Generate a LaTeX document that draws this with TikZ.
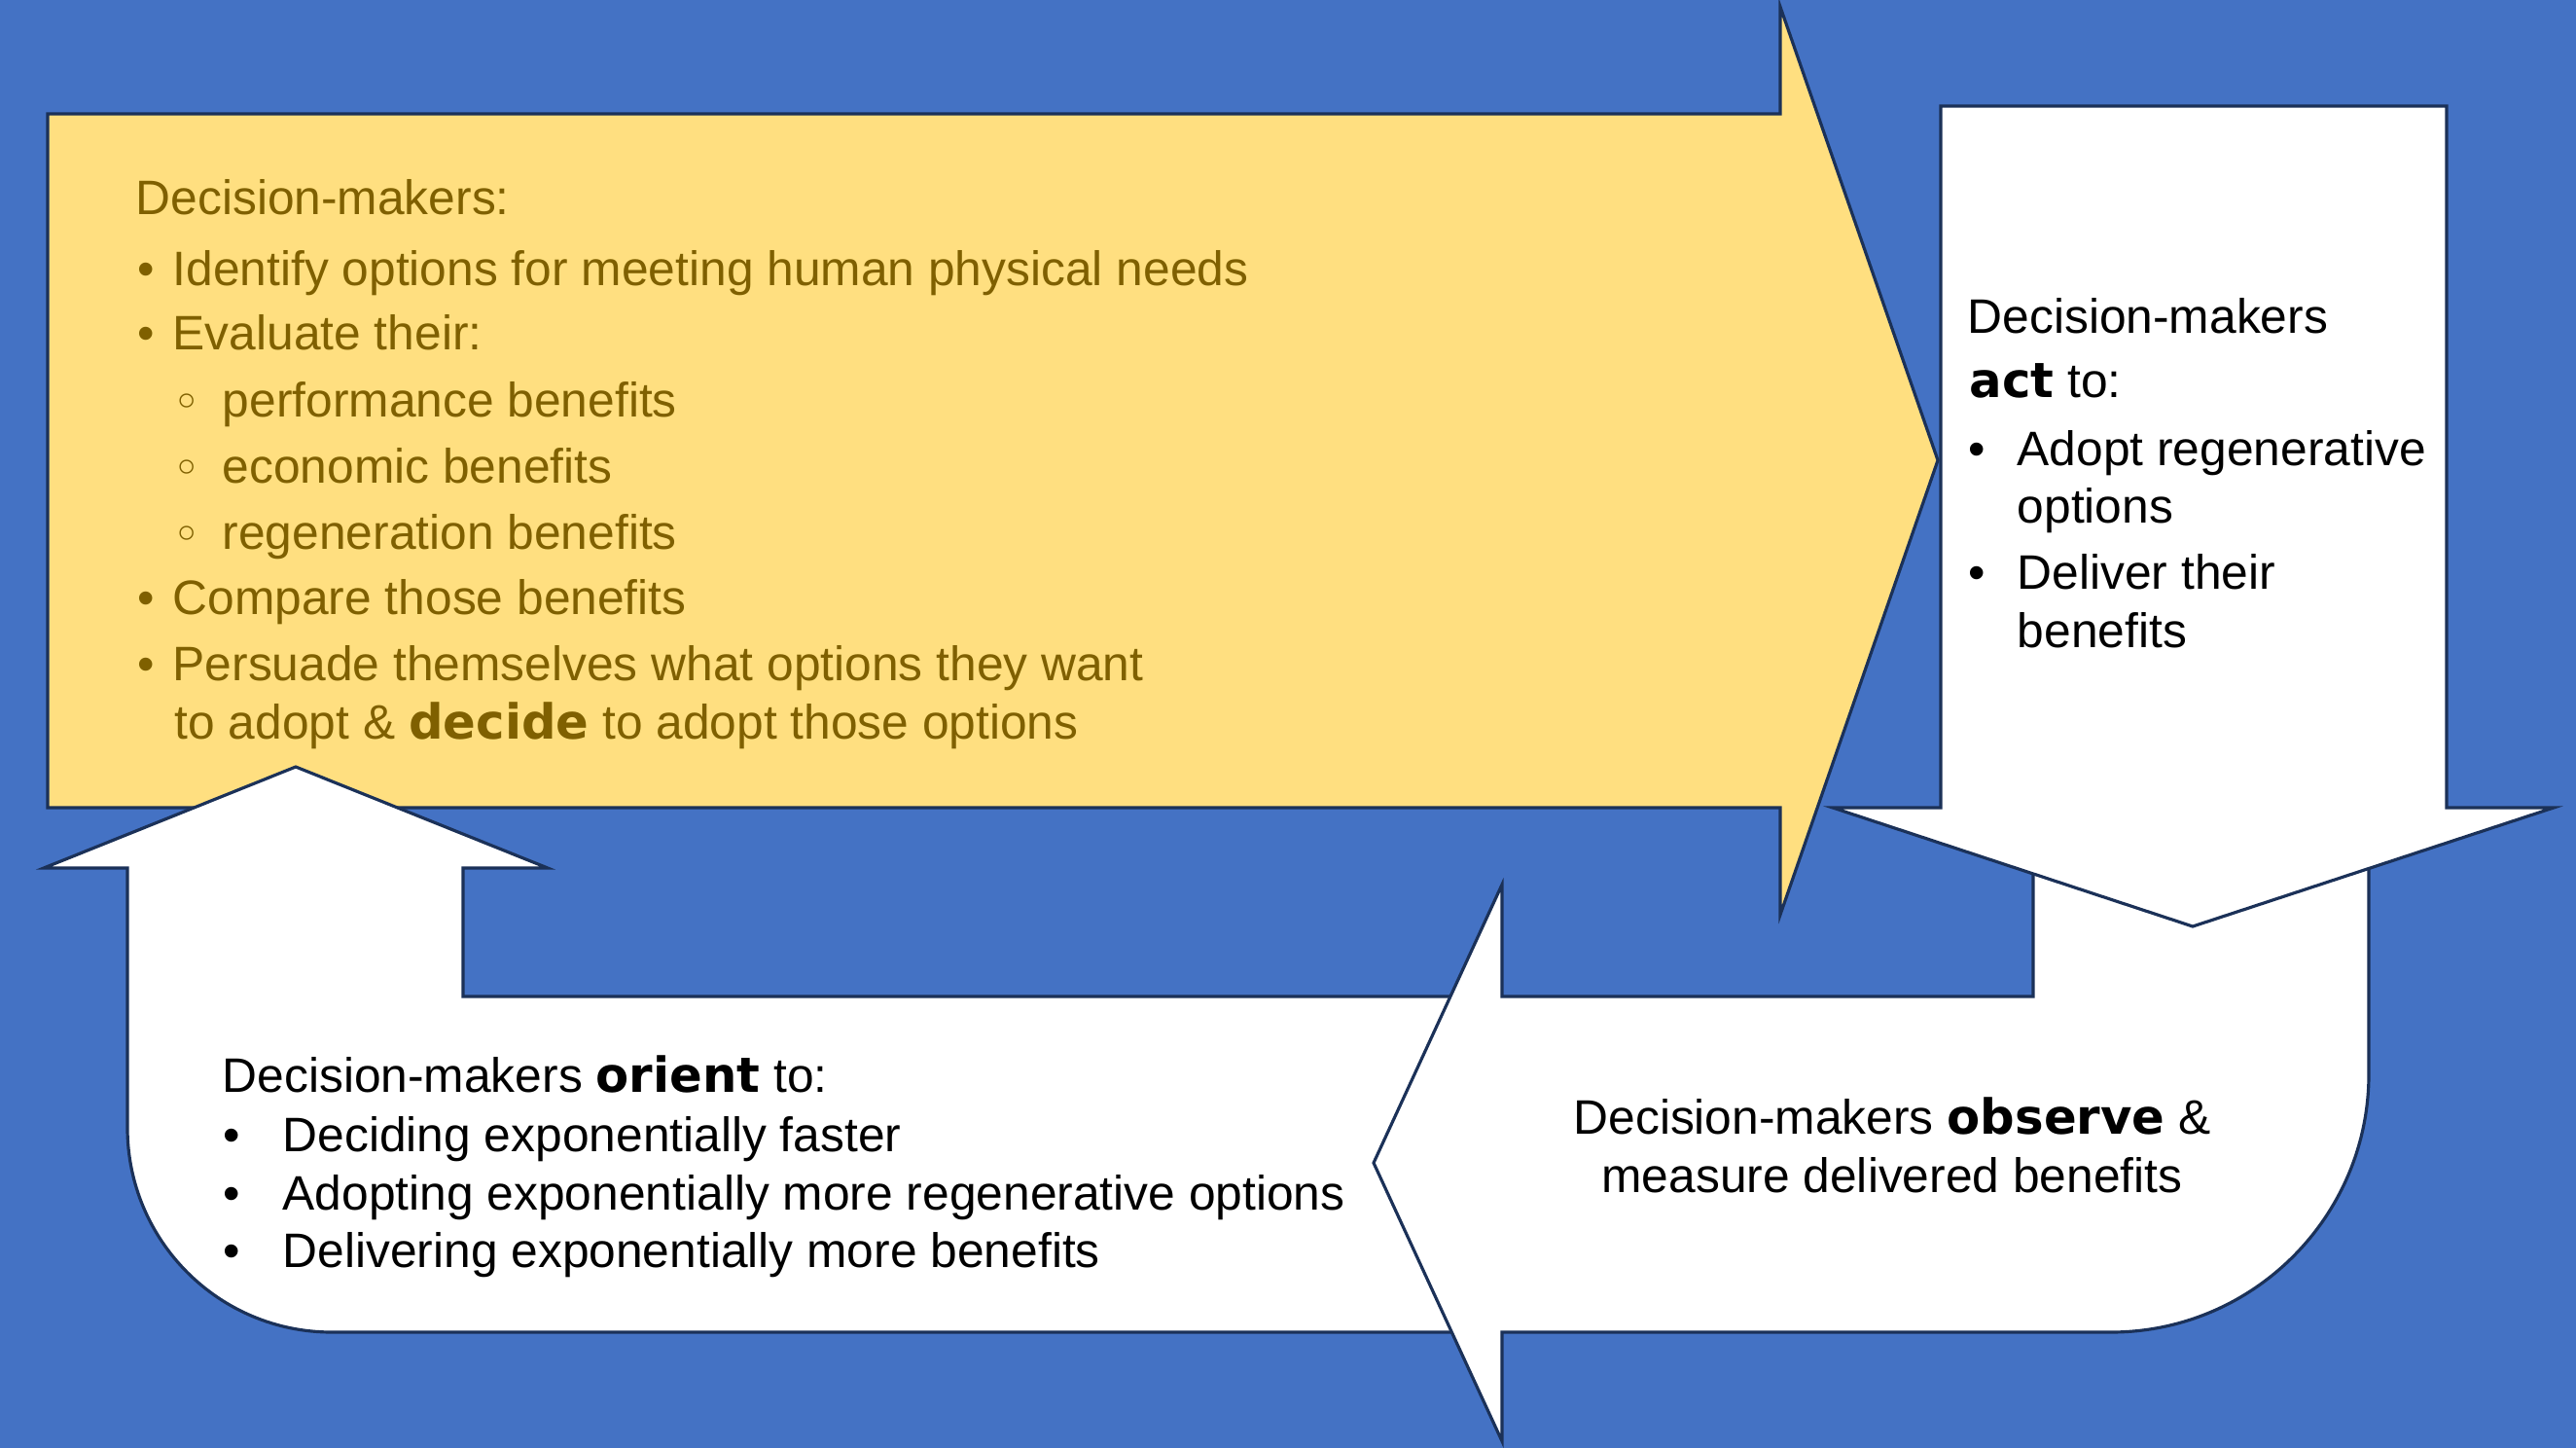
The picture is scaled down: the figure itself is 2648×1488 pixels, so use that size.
\documentclass[tikz,border=0pt]{standalone}
\usepackage{fontspec}
\setmainfont{Liberation Sans}
\newfontface\heavyface{DejaVu Sans Bold}
\newfontface\symface{DejaVu Sans}
\definecolor{slideblue}{HTML}{4472C4}
\definecolor{goldfill}{HTML}{FFDF80}
\definecolor{goldtext}{HTML}{7F6000}
\definecolor{edgeblue}{HTML}{1B3158}
\newcommand{\txtsize}{\fontsize{14.14}{17}\selectfont}
\newcommand{\hv}[1]{{\heavyface #1}}
\newcommand{\subdot}{{\symface ◦}}
\tikzset{
    shapeline/.style={draw=edgeblue, line width=0.9pt, line join=miter},
    goldline/.style={anchor=base west, inner sep=0pt, text=goldtext, font=\txtsize},
    blackline/.style={anchor=base west, inner sep=0pt, text=black, font=\txtsize},
    centreline/.style={anchor=base, inner sep=0pt, text=black, font=\txtsize}
}

\begin{document}
\begin{tikzpicture}[x=0.01cm, y=-0.01cm]
    \fill[slideblue] (0,0) rectangle (2648,1488);
    \useasboundingbox (0,0) rectangle (2648,1488);

    \draw[shapeline, fill=goldfill]
    (49,117) -- (1830,117) -- (1830,7) -- (1992,473) -- (1830,940) -- (1830,830) -- (49,830) -- cycle;

    \draw[shapeline, fill=white]
    (1530,1024) -- (476,1024) -- (476,892) -- (563,892) -- (304,788) -- (45,892) -- (131,892)
    -- (131,1159) .. controls (131,1275) and (225,1369) .. (341,1369) -- (1530,1369) -- cycle;

    \draw[shapeline, fill=white]
    (2090,860) -- (2090,1024) -- (1544,1024) -- (1544,909) -- (1412,1195) -- (1544,1481) -- (1544,1369)
    -- (2170,1369) .. controls (2316,1369) and (2435,1250) .. (2435,1104) -- (2435,860) -- cycle;

    \draw[shapeline, fill=white]
    (1995,109) -- (2515,109) -- (2515,830) -- (2625,830) -- (2254,952) -- (1884,830) -- (1995,830) -- cycle;

    \begin{scope}[every node/.style={goldline}]
        \node (decide-head) at (139,221) {Decision-makers:};
        \node (decide-dot1) at (141,294) {•};
        \node (decide-line1) at (177,294) {Identify options for meeting human physical needs};
        \node (decide-dot2) at (141,360) {•};
        \node (decide-line2) at (177,360) {Evaluate their:};
        \node (decide-sub1) at (177,430) {\subdot};
        \node (decide-perf) at (228,428) {performance benefits};
        \node (decide-sub2) at (177,498) {\subdot};
        \node (decide-econ) at (228,496) {economic benefits};
        \node (decide-sub3) at (177,566) {\subdot};
        \node (decide-regen) at (228,564) {regeneration benefits};
        \node (decide-dot3) at (141,631) {•};
        \node (decide-line3) at (177,631) {Compare those benefits};
        \node (decide-dot4) at (141,699) {•};
        \node (decide-line4) at (177,699) {Persuade themselves what options they want};
        \node (decide-line5) at (179,759) {to adopt \& \hv{decide} to adopt those options};
    \end{scope}

    \begin{scope}[every node/.style={blackline}]
        \node (act-head) at (2022,342) {Decision-makers};
        \node (act-verb) at (2024,408) {\hv{act} to:};
        \node (act-dot1) at (2023,478) {•};
        \node (act-line1) at (2073,478) {Adopt regenerative};
        \node (act-line1b) at (2073,537) {options};
        \node (act-dot2) at (2023,605) {•};
        \node (act-line2) at (2073,605) {Deliver their};
        \node (act-line2b) at (2073,665) {benefits};
    \end{scope}

    \begin{scope}[every node/.style={blackline}]
        \node (orient-head) at (228,1122) {Decision-makers \hv{orient} to:};
        \node (orient-dot1) at (229,1183) {•};
        \node (orient-line1) at (290,1183) {Deciding exponentially faster};
        \node (orient-dot2) at (229,1243) {•};
        \node (orient-line2) at (290,1243) {Adopting exponentially more regenerative options};
        \node (orient-dot3) at (229,1302) {•};
        \node (orient-line3) at (290,1302) {Delivering exponentially more benefits};
    \end{scope}

    \node[centreline] (observe-line1) at (1945,1165) {Decision-makers \hv{observe} \&};
    \node[centreline] (observe-line2) at (1945,1225) {measure delivered benefits};
\end{tikzpicture}
\end{document}
